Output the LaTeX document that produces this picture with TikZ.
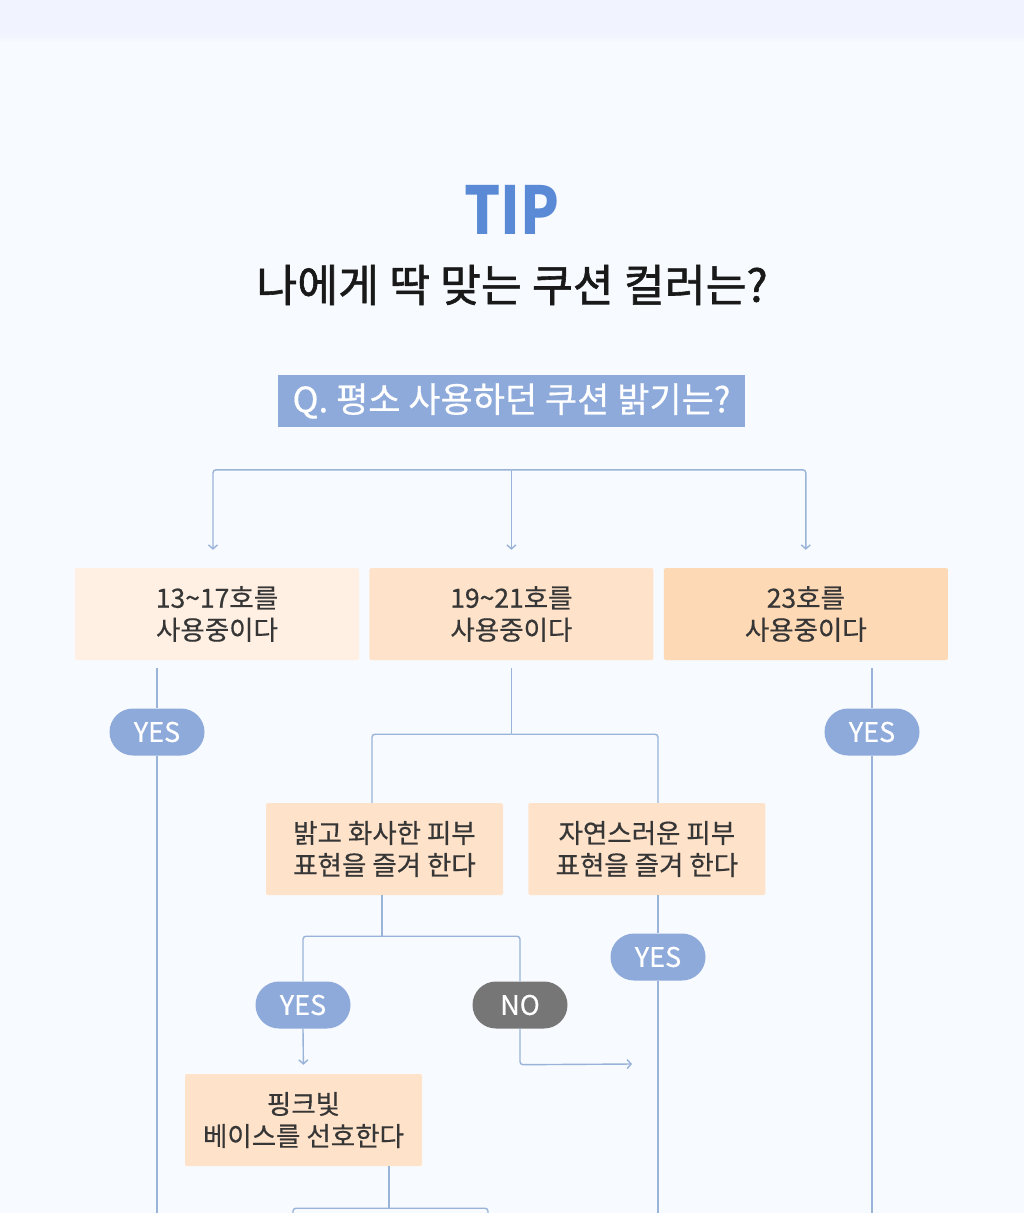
\documentclass[tikz,border=0pt]{standalone}
\usepackage{fontspec}
\setmainfont{Noto Sans CJK KR}[FakeBold=0.5]
\newfontfamily\tipfont{Noto Sans CJK KR}[FakeStretch=0.86]
\newfontfamily\headfont{Noto Sans CJK KR}[FakeBold=1.3]
\usetikzlibrary{arrows.meta,positioning}
\definecolor{Page}{HTML}{F7FAFE}
\definecolor{Band}{HTML}{F1F3FE}
\definecolor{Tip}{HTML}{5A8AD6}
\definecolor{Pill}{HTML}{8EAADB}
\definecolor{NoPill}{HTML}{767676}
\definecolor{Wire}{HTML}{9AB3D9}
\definecolor{Ink}{HTML}{363636}
\definecolor{PeachA}{HTML}{FFF0E3}
\definecolor{PeachB}{HTML}{FEE3CA}
\definecolor{PeachC}{HTML}{FED9B5}

\begin{document}
\begin{tikzpicture}[x=1pt,y=-1pt,>={Straight Barb[length=4pt,width=9pt]},
  every node/.style={align=center,text=Ink,inner sep=0pt},
  box/.style={fill=PeachB,rounded corners=1.5pt,minimum height=92pt,font=\fontsize{26.5}{32}\selectfont},
  pill/.style={fill=Pill,rounded corners=23.5pt,minimum width=95pt,minimum height=47pt,text=white,font=\fontsize{27}{27}\selectfont},
  wire/.style={draw=Wire,line width=1.4pt,rounded corners=3pt}]
  % page
  \useasboundingbox (0,0) rectangle (1024,1213);
  \fill[Page] (0,0) rectangle (1024,1213);
  \fill[Band] (0,0) rectangle (1024,33);
  \shade[top color=Band,bottom color=Page] (0,33) rectangle (1024,42);
  % heading
  \node[font=\tipfont\bfseries\fontsize{66}{66}\selectfont,text=Tip] (tip) at (512,210) {TIP};
  \node[font=\headfont\fontsize{44.5}{44.5}\selectfont,text=black!90] (title) at (512,285) {나에게 딱 맞는 쿠션 컬러는?};
  \node[fill=Pill,text=white,minimum width=467pt,minimum height=52pt,font=\fontsize{35}{35}\selectfont] (q) at (511.5,401) {Q. 평소 사용하던 쿠션 밝기는?};
  % first row
  \node[box,fill=PeachA,minimum width=284pt] (b13) at (217,614) {13\textasciitilde17호를\\사용중이다};
  \node[box,minimum width=284pt,right=10pt of b13] (b19) {19\textasciitilde21호를\\사용중이다};
  \node[box,fill=PeachC,minimum width=284pt,right=10pt of b19] (b23) {23호를\\사용중이다};
  \path (b19.north) ++(0,-98) coordinate (qsplit);
  \draw[wire,->,shorten >=18pt] (qsplit) -| ([xshift=-4pt]b13.north);
  \draw[wire,->,shorten >=18pt] (qsplit) -- (b19.north);
  \draw[wire,->,shorten >=18pt] (qsplit) -| (b23.north);
  % pills
  \node[pill] (y13) at (157,732) {YES};
  \node[pill] (y23) at (872,732) {YES};
  \node[pill] (yb) at (303,1005) {YES};
  \node[pill,fill=NoPill] (nb) at (520,1005) {NO};
  \node[pill] (yn) at (658,957) {YES};
  % second row
  \node[box,minimum width=237pt] (bb) at (384.5,849) {밝고 화사한 피부\\표현을 즐겨 한다};
  \node[box,minimum width=237pt,right=25pt of bb] (bn) {자연스러운 피부\\표현을 즐겨 한다};
  \node[box,minimum width=237pt] (bp) at (303.5,1120) {핑크빛\\베이스를 선호한다};
  % outer branches
  \coordinate (e13) at (157,1213);
  \coordinate (e23) at (872,1213);
  \coordinate (en) at (658,1213);
  \draw[wire,shorten <=8pt] (b13.south -| y13.north) -- (y13.north);
  \draw[wire] (y13.south) -- (e13);
  \draw[wire,shorten <=8pt] (b23.south -| y23.north) -- (y23.north);
  \draw[wire] (y23.south) -- (e23);
  % middle branch
  \path (b19.south) ++(0,74) coordinate (msplit);
  \draw[wire,shorten <=8pt] (b19.south) -- (msplit);
  \draw[wire] (msplit) -| ([xshift=-12.5pt]bb.north);
  \draw[wire] (msplit) -| (yn |- bn.north);
  \draw[wire] (yn |- bn.south) -- (yn.north);
  \draw[wire] (yn.south) -- (en);
  % bright branch
  \path ([xshift=-2.5pt]bb.south) ++(0,41) coordinate (bsplit);
  \draw[wire] ([xshift=-2.5pt]bb.south) -- (bsplit);
  \draw[wire] (bsplit) -| (yb.north);
  \draw[wire] (bsplit) -| (nb.north);
  \draw[wire,->,shorten >=9pt] (yb.south) -- (bp.north);
  \path (nb.south) ++(0,36) coordinate (nturn);
  \coordinate (nend) at (632,1064);
  \draw[wire,->] (nb.south) -- (nturn) -- (nend);
  % pink branch
  \path ([xshift=85.5pt]bp.south) ++(0,42) coordinate (psplit);
  \coordinate (pl) at (293,1216);
  \coordinate (pr) at (488,1216);
  \draw[wire] ([xshift=85.5pt]bp.south) -- (psplit);
  \draw[wire] (psplit) -| (pl);
  \draw[wire] (psplit) -| (pr);
\end{tikzpicture}
\end{document}
